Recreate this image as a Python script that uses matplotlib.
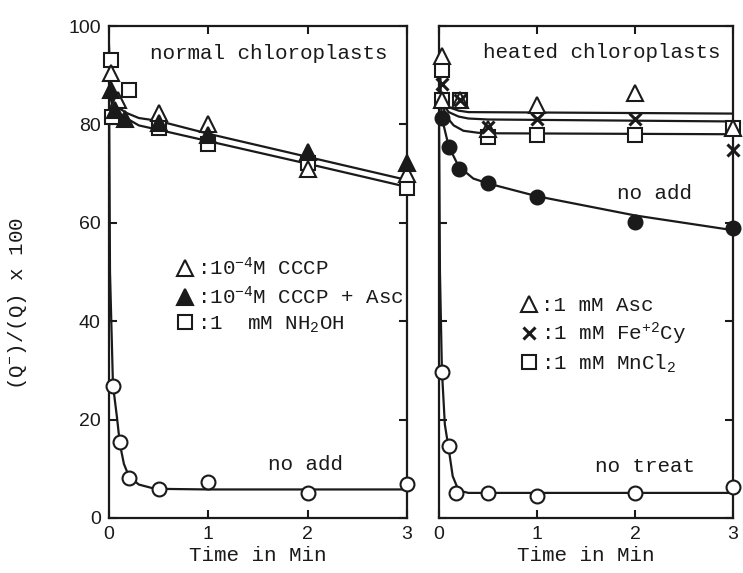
import matplotlib
matplotlib.use('Agg')
import matplotlib.pyplot as plt
from matplotlib.lines import Line2D

plt.rcParams['font.family'] = ['Liberation Mono', 'DejaVu Sans']
ink = '#1a1a1a'

# ---- normal chloroplasts (left panel) ----
cccp_t = [0.02, 0.09, 0.5, 1, 2, 3]
cccp_v = [90.5, 85, 82.3, 80, 71, 70]
cccp_asc_t = [0.02, 0.06, 0.16, 0.5, 1, 2, 3]
cccp_asc_v = [87, 83, 81, 80.3, 77.8, 74.4, 72.1]
nh2oh_t = [0.02, 0.03, 0.2, 0.5, 1, 2, 3]
nh2oh_v = [93, 81.5, 87, 79.2, 76, 72.1, 67]
noadd_t = [0.04, 0.11, 0.2, 0.5, 1, 2, 3]
noadd_v = [26.8, 15.4, 8.1, 5.9, 7.3, 5.1, 6.9]

# hand-drawn fit curves
fit_up_t = [0, 0.02, 0.05, 0.1, 0.18, 0.3, 0.5, 1, 2, 3]
fit_up_v = [96, 86, 84.5, 83.3, 82.3, 81.3, 80.7, 78.1, 73.4, 68.7]
fit_lo_t = [0, 0.02, 0.05, 0.1, 0.18, 0.3, 0.5, 1, 2, 3]
fit_lo_v = [93, 85, 83, 82, 81.2, 79.8, 78.9, 76.6, 72, 67.3]
fit_na_t = [0, 0.01, 0.04, 0.08, 0.11, 0.15, 0.2, 0.3, 0.45, 0.6, 1, 2, 3]
fit_na_v = [90, 50, 27, 20.5, 15, 11, 8.5, 6.8, 6.0, 5.9, 5.8, 5.8, 5.8]

# ---- heated chloroplasts (right panel) ----
asc_t = [0.03, 0.03, 0.21, 0.5, 1, 2, 3]
asc_v = [94, 85, 85, 79, 84, 86.3, 79.2]
fecy_t = [0.03, 0.21, 0.5, 1, 2, 3]
fecy_v = [88.3, 85, 79.5, 81.2, 81.2, 74.8]
mncl_t = [0.03, 0.03, 0.21, 0.5, 1, 2, 3]
mncl_v = [91, 85, 85, 77.5, 77.8, 77.8, 79.2]
hnoadd_t = [0.03, 0.1, 0.2, 0.5, 1, 2, 3]
hnoadd_v = [81.3, 75.4, 71, 68, 65.2, 60.2, 58.9]
notreat_t = [0.03, 0.1, 0.17, 0.5, 1, 2, 3]
notreat_v = [29.7, 14.6, 5.1, 5.1, 4.5, 5.1, 6.3]

fit_asc_t = [0.01, 0.02, 0.05, 0.1, 0.2, 0.3, 3]
fit_asc_v = [94, 85, 84.5, 83.5, 82.8, 82.5, 82.2]
fit_fe_t = [0.02, 0.05, 0.1, 0.2, 0.3, 0.5, 3]
fit_fe_v = [85, 83.8, 82.5, 81.6, 81.2, 81.0, 80.6]
fit_mn_t = [0.02, 0.05, 0.1, 0.15, 0.25, 0.4, 0.5, 3]
fit_mn_v = [85, 83, 81, 79.8, 78.7, 78.3, 78.2, 78.0]
fit_hn_t = [0.02, 0.03, 0.1, 0.2, 0.35, 0.5, 1, 2, 3]
fit_hn_v = [84, 81.3, 75.5, 71.5, 69, 68, 65.4, 61.5, 58.5]
fit_nt_t = [0, 0.01, 0.03, 0.06, 0.1, 0.14, 0.2, 0.3, 3]
fit_nt_v = [84, 50, 30, 19, 14, 8.5, 5.6, 5.1, 5.1]

xticks = [0, 1, 2, 3]
yticks = [0, 20, 40, 60, 80, 100]

fig = plt.figure(figsize=(7.43, 5.73), dpi=100)
ax1 = fig.add_axes([0.1467, 0.096, 0.401, 0.8586])
ax2 = fig.add_axes([0.5908, 0.096, 0.3957, 0.8586])

lw = 1.6
ms = 10
for t, v in [(fit_up_t, fit_up_v), (fit_lo_t, fit_lo_v), (fit_na_t, fit_na_v)]:
    ax1.plot(t, v, color=ink, lw=lw, zorder=2)
for t, v in [(fit_asc_t, fit_asc_v), (fit_fe_t, fit_fe_v), (fit_mn_t, fit_mn_v),
             (fit_hn_t, fit_hn_v), (fit_nt_t, fit_nt_v)]:
    ax2.plot(t, v, color=ink, lw=lw, zorder=2)

def pts(ax, t, v, marker, fill, size=ms, mew=1.5):
    ax.plot(t, v, ls='none', marker=marker, ms=size, mfc=fill, mec=ink,
            mew=mew, clip_on=False, zorder=3)

pts(ax1, nh2oh_t, nh2oh_v, 's', 'white')
pts(ax1, cccp_t, cccp_v, '^', 'white', 11)
pts(ax1, cccp_asc_t, cccp_asc_v, '^', ink, 11)
pts(ax1, noadd_t, noadd_v, 'o', 'white')

pts(ax2, mncl_t, mncl_v, 's', 'white')
pts(ax2, asc_t, asc_v, '^', 'white', 11)
pts(ax2, fecy_t, fecy_v, 'x', ink, 8, 2.2)
pts(ax2, hnoadd_t, hnoadd_v, 'o', ink)
pts(ax2, notreat_t, notreat_v, 'o', 'white')

for ax in (ax1, ax2):
    ax.set_xlim(0, 3)
    ax.set_ylim(0, 100)
    ax.set_xticks(xticks)
    ax.set_yticks(yticks)
    ax.tick_params(direction='in', top=True, right=True, length=6, width=1.5,
                   labelsize=14, pad=6, colors=ink)
    for lab in ax.get_xticklabels() + ax.get_yticklabels():
        lab.set_family('Liberation Sans')
    for s in ax.spines.values():
        s.set_linewidth(1.6)
        s.set_color(ink)
    ax.set_xlabel('Time in Min', fontsize=15, color=ink, labelpad=2)
ax1.set_yticklabels(['0', '20', '40', '60', '80', '100'])
ax2.set_yticklabels([])

ax1.text(0.41, 94.5, 'normal chloroplasts', fontsize=15, va='center', color=ink)
ax2.text(0.45, 94.7, 'heated chloroplasts', fontsize=15, va='center', color=ink)
ax1.text(1.6, 10.8, 'no add', fontsize=15, va='center', color=ink)
ax2.text(1.82, 66, 'no add', fontsize=15, va='center', color=ink)
ax2.text(1.59, 10.4, 'no treat', fontsize=15, va='center', color=ink)

fig.text(0.024, 0.47, r'(Q$\mathregular{^{-}}$)/(Q) x 100', rotation=90,
         fontsize=15, va='center', ha='center', color=ink)

def key(marker, fill, size=10, mew=1.5):
    return Line2D([], [], ls='none', marker=marker, ms=size, mfc=fill, mec=ink, mew=mew)

ax1.legend([key('^', 'white', 11), key('^', ink, 11), key('s', 'white')],
           [r':$\mathregular{10^{-4}}$M CCCP', r':$\mathregular{10^{-4}}$M CCCP + Asc',
            r':1  mM NH$\mathregular{_2}$OH'],
           loc='upper left', bbox_to_anchor=(0.19, 0.552), frameon=False,
           fontsize=15, handlelength=0.9, handletextpad=0.1, borderpad=0,
           labelspacing=0.3, labelcolor=ink)
ax2.legend([key('^', 'white', 11), key('x', ink, 8, 2.2), key('s', 'white')],
           [':1 mM Asc', r':1 mM Fe$\mathregular{^{+2}}$Cy', r':1 mM MnCl$\mathregular{_2}$'],
           loc='upper left', bbox_to_anchor=(0.24, 0.472), frameon=False,
           fontsize=15, handlelength=0.9, handletextpad=0.1, borderpad=0,
           labelspacing=0.25, labelcolor=ink)

fig.savefig('out.png', dpi=100)
